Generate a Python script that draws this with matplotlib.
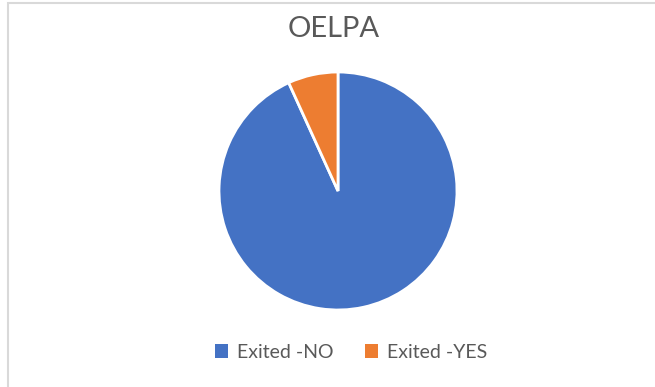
import matplotlib.pyplot as plt
from matplotlib.patches import Rectangle, Patch

labels = ["Exited -NO", "Exited -YES"]
shares = [93.2, 6.8]
colors = ["#4472C4", "#ED7D31"]

plt.rcParams["font.family"] = ["Lato", "DejaVu Sans"]

fig = plt.figure(figsize=(6.55, 3.87), dpi=100)

# chart area frame (runs past the right and bottom edge)
fig.patches.append(Rectangle((8 / 655, -0.2), 1.2, 1.2 - 3 / 387 + 0.001,
                             transform=fig.transFigure, fill=False,
                             edgecolor="#D9D9D9", linewidth=1.5))

ax = fig.add_axes([219 / 655, 77 / 387, 238 / 655, 238 / 387])
ax.pie(shares, colors=colors, startangle=90, counterclock=False, radius=1,
       wedgeprops=dict(edgecolor="white", linewidth=2))
ax.set_xlim(-1.0, 1.0)
ax.set_ylim(-1.0, 1.0)
ax.set_aspect("auto")
ax.axis("off")

fig.text(334 / 655, 1 - 29 / 387, "OELPA", ha="center", va="center",
         fontsize=21, color="#595959")

handles = [Patch(facecolor=c, edgecolor="none") for c in colors]
fig.legend(handles, labels, loc="center", bbox_to_anchor=(351 / 655, 35 / 387),
           ncol=2, frameon=False, fontsize=14, labelcolor="#595959",
           handlelength=0.7, handleheight=0.7, handletextpad=0.45,
           columnspacing=1.6)

fig.savefig("out.png", dpi=100)
